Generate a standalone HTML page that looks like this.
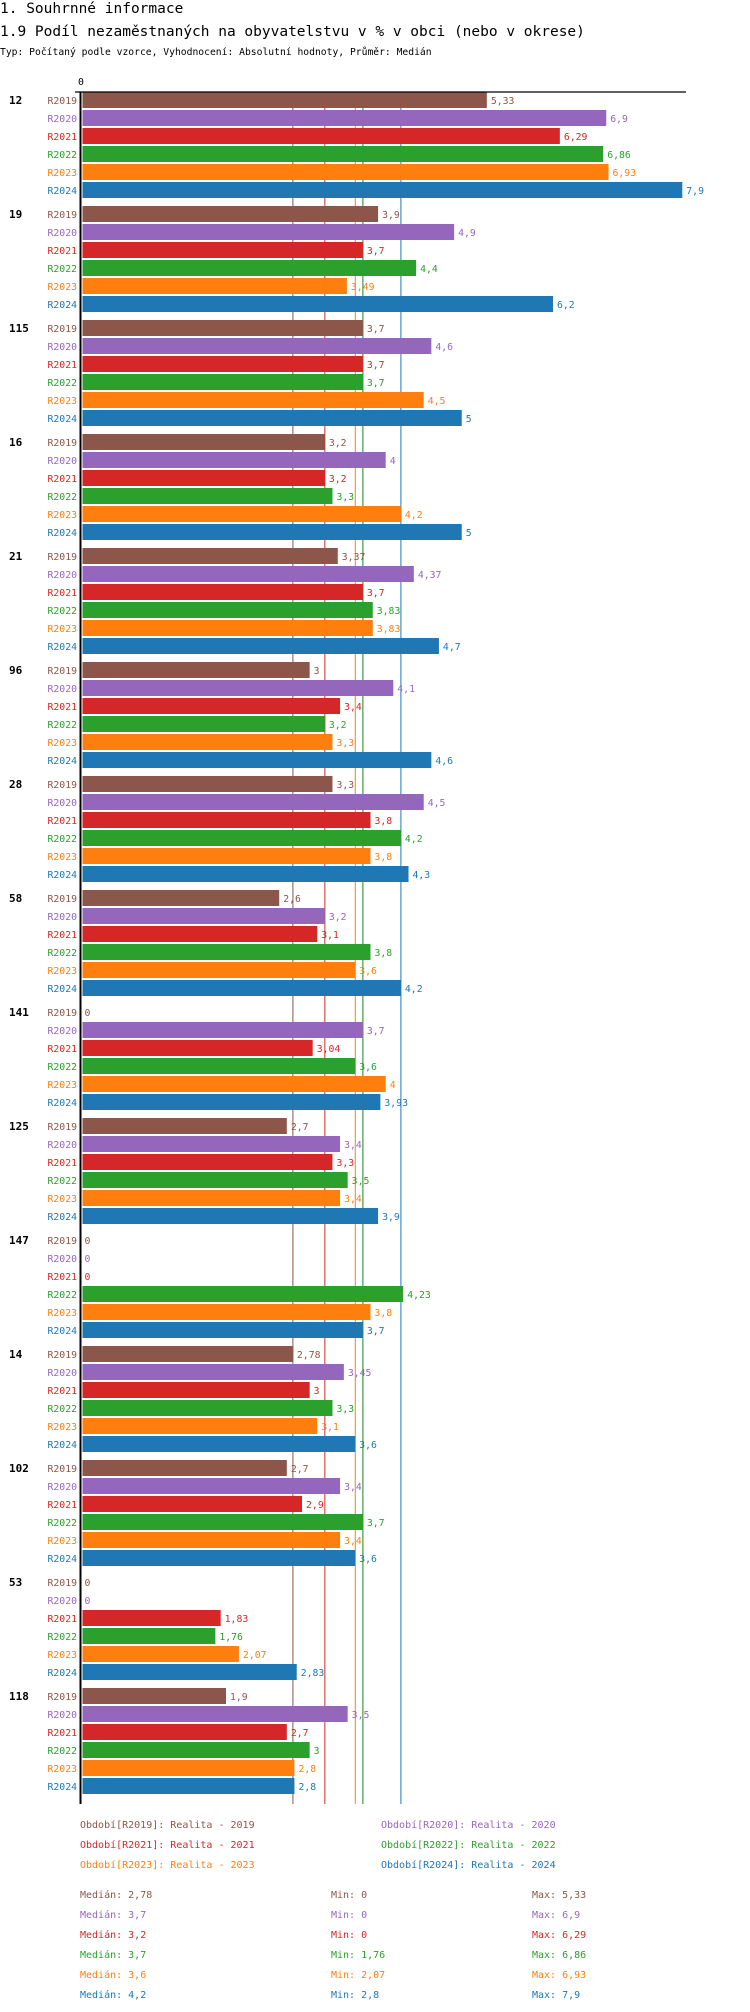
<!DOCTYPE html>
<html><head><meta charset="utf-8">
<style>
body{margin:0;background:#fff;width:750px;height:2012px;overflow:hidden}
svg{display:block}
text{font-family:"DejaVu Sans Mono","Liberation Mono",monospace}
</style></head>
<body>
<svg id="chart" width="750" height="2012" xmlns="http://www.w3.org/2000/svg">
<text x="0" y="13" font-size="14.5" fill="#000">1. Souhrnné informace</text>
<text x="0" y="36" font-size="14.5" fill="#000">1.9 Podíl nezaměstnaných na obyvatelstvu v % v obci (nebo v okrese)</text>
<text x="0" y="55" font-size="9.7" fill="#000">Typ: Počítaný podle vzorce, Vyhodnocení: Absolutní hodnoty, Průměr: Medián</text>
<g id="plot"></g>
</svg>
<script>
const groups = ["12","19","115","16","21","96","28","58","141","125","147","14","102","53","118"];
const seriesNames = ["R2019","R2020","R2021","R2022","R2023","R2024"];
const colors = ["#8c564b","#9467bd","#d62728","#2ca02c","#ff7f0e","#1f77b4"];
const v2019 = [5.33,3.9,3.7,3.2,3.37,3,3.3,2.6,0,2.7,0,2.78,2.7,0,1.9];
const v2020 = [6.9,4.9,4.6,4,4.37,4.1,4.5,3.2,3.7,3.4,0,3.45,3.4,0,3.5];
const v2021 = [6.29,3.7,3.7,3.2,3.7,3.4,3.8,3.1,3.04,3.3,0,3,2.9,1.83,2.7];
const v2022 = [6.86,4.4,3.7,3.3,3.83,3.2,4.2,3.8,3.6,3.5,4.23,3.3,3.7,1.76,3];
const v2023 = [6.93,3.49,4.5,4.2,3.83,3.3,3.8,3.6,4,3.4,3.8,3.1,3.4,2.07,2.8];
const v2024 = [7.9,6.2,5,5,4.7,4.6,4.3,4.2,3.93,3.9,3.7,3.6,3.6,2.83,2.8];
const medians = [2.78,3.7,3.2,3.7,3.6,4.2];
const mins = [0,0,0,1.76,2.07,2.8];
const maxs = [5.33,6.9,6.29,6.86,6.93,7.9];
const series = [v2019,v2020,v2021,v2022,v2023,v2024];

const NS="http://www.w3.org/2000/svg";
const plot=document.getElementById('plot');
const x0=81.5, pxPerUnit=76.05, top0=92, barH=16, rowH=18, groupH=114;
const axisBottom = top0 + (groups.length-1)*groupH + 6*rowH + 8;
function xs(v){return x0+v*pxPerUnit;}
function fmt(v){return String(v).replace('.',',');}
function mk(tag,attrs,txt){const e=document.createElementNS(NS,tag);for(const k in attrs)e.setAttribute(k,attrs[k]);if(txt!==undefined)e.textContent=txt;plot.appendChild(e);return e;}

// median lines
medians.forEach((m,i)=>{
  const l=mk('line',{x1:xs(m),x2:xs(m),y1:top0,y2:axisBottom,stroke:colors[i],'stroke-width':1});
  
  
});

// bars
groups.forEach((g,gi)=>{
  const gy=top0+gi*groupH;
  const gl=mk('text',{x:9,y:gy+12,'font-size':11,'font-weight':'bold',fill:'#000'},g);
  
  
  series.forEach((s,si)=>{
    const y=gy+si*rowH;
    const v=s[gi];
    const lab=mk('text',{x:77,y:y+12,'font-size':9.8,'text-anchor':'end',fill:colors[si]},seriesNames[si]);
    
    
    if(v>0){
      const r=mk('rect',{x:x0+1,y:y,width:Math.max(0,xs(v)-x0-1),height:barH,fill:colors[si]});
      
      
    }
    const vl=mk('text',{x:xs(v)+(v>0?4:3),y:y+12,'font-size':9.8,fill:colors[si]},fmt(v));
    
    
  });
});

// axes
const ax=mk('line',{x1:80.5,x2:80.5,y1:top0,y2:axisBottom,stroke:'#000','stroke-width':2});


const xa=mk('line',{x1:75,x2:686,y1:92,y2:92,stroke:'#000','stroke-width':1.2});


const t0=mk('text',{x:81,y:85,'font-size':9.8,'text-anchor':'middle',fill:'#000'},'0');



// legend
seriesNames.forEach((n,i)=>{
  const col=i%2, row=Math.floor(i/2);
  const t=mk('text',{x:col?381:80,y:1828+row*20,'font-size':10,fill:colors[i]},'Období['+n+']: Realita - '+n.slice(1));
  
  
});
// stats
seriesNames.forEach((n,i)=>{
  const y=1898+i*20;
  const a=mk('text',{x:80,y:y,'font-size':10,fill:colors[i]},'Medián: '+fmt(medians[i]));
  
  
  const b=mk('text',{x:331,y:y,'font-size':10,fill:colors[i]},'Min: '+fmt(mins[i]));
  
  
  const c=mk('text',{x:532,y:y,'font-size':10,fill:colors[i]},'Max: '+fmt(maxs[i]));
  
  
});
</script>
</body></html>
